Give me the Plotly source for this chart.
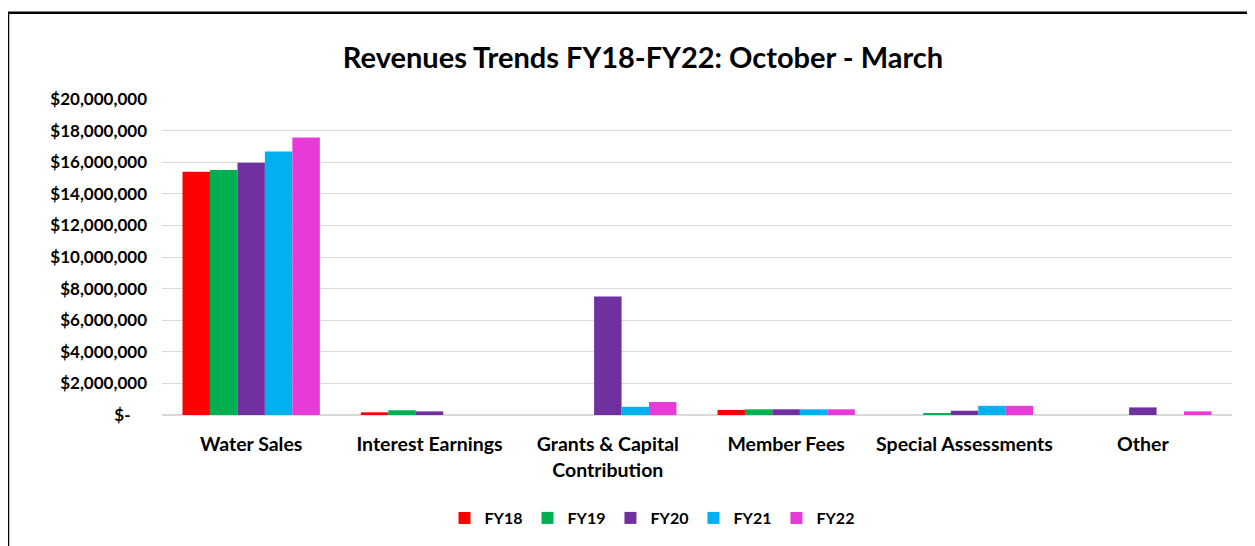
import plotly.graph_objects as go

categories = ["Water Sales", "Interest Earnings", "Grants & Capital<br>Contribution",
              "Member Fees", "Special Assessments", "Other"]
series_names = ["FY18", "FY19", "FY20", "FY21", "FY22"]
fy18 = [15400000, 170000, 0, 320000, 0, 0]
fy19 = [15500000, 300000, 0, 360000, 100000, 0]
fy20 = [15970000, 230000, 7500000, 360000, 270000, 480000]
fy21 = [16670000, 0, 520000, 360000, 580000, 0]
fy22 = [17560000, 0, 820000, 360000, 580000, 230000]
colors = ["#FF0000", "#00B050", "#7030A0", "#00B0F0", "#E83AD6"]
tick_vals = [0, 2000000, 4000000, 6000000, 8000000, 10000000, 12000000,
             14000000, 16000000, 18000000, 20000000]
tick_text = ["$-\u00a0\u00a0\u00a0\u00a0", "$2,000,000", "$4,000,000", "$6,000,000", "$8,000,000",
             "$10,000,000", "$12,000,000", "$14,000,000", "$16,000,000",
             "$18,000,000", "$20,000,000"]

FONT = "Lato"
fig = go.Figure()
for name, vals, c in zip(series_names, [fy18, fy19, fy20, fy21, fy22], colors):
    fig.add_trace(go.Bar(x=categories, y=vals, name=name, marker_color=c,
                         marker_line_width=0))

OX, OY = 8, 8  # page body offset
W, H = 1255 - OX, 546 - OY
L, R, T, B = 162 - OX, 1232 - OX, 99 - OY, 416 - OY
pw, ph = R - L, B - T


def px(x):
    return (x - OX - L) / pw


def py(y):
    return (B - (y - OY)) / ph


fig.update_layout(
    width=W, height=H,
    margin=dict(l=L, r=W - R, t=T, b=H - B, pad=0),
    paper_bgcolor="white", plot_bgcolor="white",
    barmode="group", bargap=0.23, bargroupgap=0,
    title=dict(text="<b>Revenues Trends FY18-FY22: October - March</b>",
               x=(643 - OX) / W, xanchor="center", y=1 - (58 - OY) / H, yanchor="middle",
               font=dict(family=FONT, size=29, color="#000000")),
    font=dict(family=FONT, size=15, color="#000000"),
    showlegend=True,
    legend=dict(orientation="h", x=px(652), xanchor="center",
                y=py(518), yanchor="middle",
                font=dict(family=FONT, size=16, color="#000000", weight="bold"),
                itemwidth=30, tracegroupgap=0, traceorder="normal"),
    xaxis=dict(showgrid=False, showline=True, linecolor="#D9D9D9", linewidth=1,
               ticks="", ticklabelstandoff=12,
               tickfont=dict(family=FONT, size=19.5, weight="bold")),
    yaxis=dict(range=[0, 20000000], tickvals=tick_vals, ticktext=tick_text,
               showgrid=True, gridcolor="#D9D9D9", gridwidth=1,
               zeroline=True, zerolinecolor="#D9D9D9", showline=False,
               ticks="", ticklabelstandoff=14,
               tickfont=dict(family=FONT, size=17, weight="bold")),
    shapes=[
        dict(type="line", xref="paper", yref="paper",
             x0=px(7), x1=px(1262), y0=py(12.5), y1=py(12.5),
             line=dict(color="black", width=2.5), layer="above"),
        dict(type="line", xref="paper", yref="paper",
             x0=px(8), x1=px(8), y0=py(12), y1=py(560),
             line=dict(color="black", width=2.5), layer="above"),
        dict(type="line", xref="paper", yref="paper",
             x0=px(1249), x1=px(1249), y0=py(14), y1=py(560),
             line=dict(color="#CFCFCF", width=1.5), layer="above"),
    ],
)

fig.write_html("out.html")
